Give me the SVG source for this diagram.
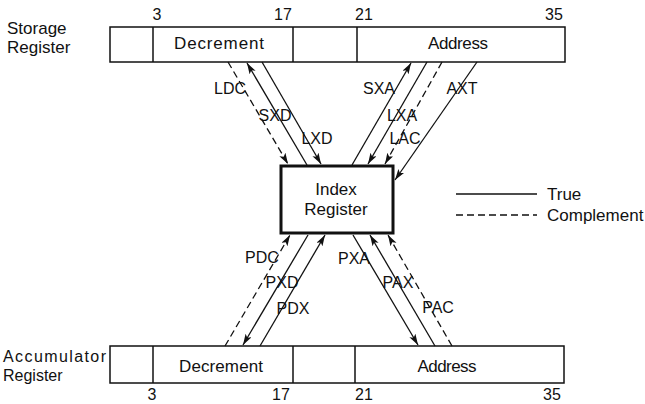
<svg xmlns="http://www.w3.org/2000/svg" width="645" height="404" viewBox="0 0 645 404">
<style>
text{font-family:"Liberation Sans","DejaVu Sans",sans-serif;font-size:17px;fill:#111}
.c{text-anchor:middle}
.s{font-size:16px}
.reg{fill:#fff;stroke:#111;stroke-width:1.5}
.div{stroke:#111;stroke-width:1.5}
.t{fill:none;stroke:#111;stroke-width:1.3}
.d{fill:none;stroke:#111;stroke-width:1.3;stroke-dasharray:7 4}
</style>
<defs>
<marker id="a" markerUnits="userSpaceOnUse" markerWidth="12" markerHeight="8" refX="11" refY="3.5" orient="auto">
<path d="M0,0 L11,3.5 L0,7 L2.5,3.5 z" fill="#111"/>
</marker>
</defs>
<rect width="645" height="404" fill="#fff"/>
<g id="storage-register">
<text x="7" y="34">Storage</text>
<text x="7" y="53">Register</text>
<rect class="reg" x="110" y="27" width="455" height="35"/>
<line class="div" x1="153" y1="27" x2="153" y2="62"/>
<line class="div" x1="293" y1="27" x2="293" y2="62"/>
<line class="div" x1="357" y1="27" x2="357" y2="62"/>
<text class="c" x="219" y="49" textLength="90">Decrement</text>
<text class="c" x="458" y="49" textLength="60">Address</text>
<text class="c s" x="157" y="20">3</text>
<text class="c s" x="283" y="20">17</text>
<text class="c s" x="364" y="20">21</text>
<text class="c s" x="554" y="20">35</text>
</g>
<g id="index-register">
<rect x="281" y="166" width="112" height="67" fill="#fff" stroke="#111" stroke-width="3"/>
<text class="c" x="336" y="195">Index</text>
<text class="c" x="336" y="215">Register</text>
</g>
<g id="accumulator-register">
<text class="s" x="3" y="362" textLength="103">Accumulator</text>
<text class="s" x="3" y="381">Register</text>
<rect class="reg" x="110" y="346" width="454" height="37"/>
<line class="div" x1="153" y1="346" x2="153" y2="383"/>
<line class="div" x1="293" y1="346" x2="293" y2="383"/>
<line class="div" x1="355" y1="346" x2="355" y2="383"/>
<text class="c" x="221" y="372" textLength="84">Decrement</text>
<text class="c" x="447" y="372" textLength="59">Address</text>
<text class="c s" x="152" y="400">3</text>
<text class="c s" x="281" y="400">17</text>
<text class="c s" x="364" y="400">21</text>
<text class="c s" x="552" y="400">35</text>
</g>
<g id="connectors">
<line class="d" x1="228" y1="62" x2="288" y2="164" marker-end="url(#a)"/>
<line class="t" x1="307" y1="165" x2="247" y2="63" marker-end="url(#a)"/>
<line class="t" x1="262" y1="62" x2="321" y2="164" marker-end="url(#a)"/>
<line class="t" x1="352" y1="165" x2="411" y2="63" marker-end="url(#a)"/>
<line class="t" x1="427" y1="62" x2="368" y2="164" marker-end="url(#a)"/>
<line class="d" x1="442" y1="62" x2="385" y2="164" marker-end="url(#a)"/>
<line class="t" x1="477" y1="62" x2="395" y2="180" marker-end="url(#a)"/>
<line class="d" x1="225" y1="346" x2="290" y2="235" marker-end="url(#a)"/>
<line class="t" x1="308" y1="235" x2="243" y2="345" marker-end="url(#a)"/>
<line class="t" x1="260" y1="346" x2="325" y2="235" marker-end="url(#a)"/>
<line class="t" x1="353" y1="235" x2="418" y2="345" marker-end="url(#a)"/>
<line class="t" x1="435" y1="346" x2="370" y2="235" marker-end="url(#a)"/>
<line class="d" x1="452" y1="346" x2="388" y2="235" marker-end="url(#a)"/>
</g>
<g id="labels">
<text class="c s" x="230" y="94">LDC</text>
<text class="c s" x="275" y="121">SXD</text>
<text class="c s" x="317" y="144">LXD</text>
<text class="c s" x="379" y="94">SXA</text>
<text class="c s" x="402" y="121">LXA</text>
<text class="c s" x="405" y="144">LAC</text>
<text class="c s" x="462" y="94">AXT</text>
<text class="c s" x="262" y="263">PDC</text>
<text class="c s" x="282" y="288">PXD</text>
<text class="c s" x="293" y="314">PDX</text>
<text class="c s" x="354" y="264">PXA</text>
<text class="c s" x="398" y="288">PAX</text>
<text class="c s" x="438" y="313">PAC</text>
</g>
<g id="legend">
<line class="t" x1="456" y1="194" x2="537" y2="194"/>
<line class="d" x1="456" y1="215" x2="537" y2="215"/>
<text x="547" y="200">True</text>
<text x="547" y="221">Complement</text>
</g>
</svg>
